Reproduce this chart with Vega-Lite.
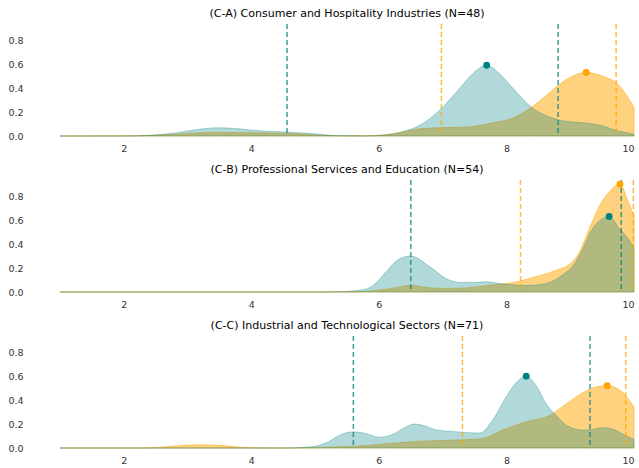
{
  "$schema": "https://vega.github.io/schema/vega-lite/v6.json",
  "padding": {"left": 7, "right": 0, "top": 8, "bottom": 0},
  "background": "white",
  "datasets": {
    "curves": [
      {"panel": "C-A", "group": "Group 1", "x": 1.0, "density": 0},
      {"panel": "C-A", "group": "Group 1", "x": 2.0, "density": 0},
      {"panel": "C-A", "group": "Group 1", "x": 2.4, "density": 0.006},
      {"panel": "C-A", "group": "Group 1", "x": 2.8, "density": 0.025},
      {"panel": "C-A", "group": "Group 1", "x": 3.1, "density": 0.05},
      {"panel": "C-A", "group": "Group 1", "x": 3.45, "density": 0.068},
      {"panel": "C-A", "group": "Group 1", "x": 3.7, "density": 0.065},
      {"panel": "C-A", "group": "Group 1", "x": 4.0, "density": 0.05},
      {"panel": "C-A", "group": "Group 1", "x": 4.3, "density": 0.038},
      {"panel": "C-A", "group": "Group 1", "x": 4.6, "density": 0.032},
      {"panel": "C-A", "group": "Group 1", "x": 4.9, "density": 0.022},
      {"panel": "C-A", "group": "Group 1", "x": 5.2, "density": 0.008},
      {"panel": "C-A", "group": "Group 1", "x": 5.5, "density": 0.002},
      {"panel": "C-A", "group": "Group 1", "x": 5.8, "density": 0.001},
      {"panel": "C-A", "group": "Group 1", "x": 6.05, "density": 0.007},
      {"panel": "C-A", "group": "Group 1", "x": 6.33, "density": 0.03},
      {"panel": "C-A", "group": "Group 1", "x": 6.64, "density": 0.09},
      {"panel": "C-A", "group": "Group 1", "x": 6.98, "density": 0.23},
      {"panel": "C-A", "group": "Group 1", "x": 7.27, "density": 0.4},
      {"panel": "C-A", "group": "Group 1", "x": 7.47, "density": 0.52},
      {"panel": "C-A", "group": "Group 1", "x": 7.69, "density": 0.59},
      {"panel": "C-A", "group": "Group 1", "x": 7.89, "density": 0.52},
      {"panel": "C-A", "group": "Group 1", "x": 8.1, "density": 0.4},
      {"panel": "C-A", "group": "Group 1", "x": 8.39, "density": 0.24},
      {"panel": "C-A", "group": "Group 1", "x": 8.67, "density": 0.16},
      {"panel": "C-A", "group": "Group 1", "x": 8.9, "density": 0.125},
      {"panel": "C-A", "group": "Group 1", "x": 9.1, "density": 0.115},
      {"panel": "C-A", "group": "Group 1", "x": 9.3, "density": 0.105},
      {"panel": "C-A", "group": "Group 1", "x": 9.5, "density": 0.085},
      {"panel": "C-A", "group": "Group 1", "x": 9.7, "density": 0.05},
      {"panel": "C-A", "group": "Group 1", "x": 10.0, "density": 0.015},

      {"panel": "C-A", "group": "Group 2", "x": 1.0, "density": 0},
      {"panel": "C-A", "group": "Group 2", "x": 2.2, "density": 0.002},
      {"panel": "C-A", "group": "Group 2", "x": 2.8, "density": 0.015},
      {"panel": "C-A", "group": "Group 2", "x": 3.2, "density": 0.027},
      {"panel": "C-A", "group": "Group 2", "x": 3.5, "density": 0.03},
      {"panel": "C-A", "group": "Group 2", "x": 3.9, "density": 0.028},
      {"panel": "C-A", "group": "Group 2", "x": 4.3, "density": 0.025},
      {"panel": "C-A", "group": "Group 2", "x": 4.6, "density": 0.022},
      {"panel": "C-A", "group": "Group 2", "x": 5.0, "density": 0.008},
      {"panel": "C-A", "group": "Group 2", "x": 5.4, "density": 0.001},
      {"panel": "C-A", "group": "Group 2", "x": 5.8, "density": 0.002},
      {"panel": "C-A", "group": "Group 2", "x": 6.1, "density": 0.01},
      {"panel": "C-A", "group": "Group 2", "x": 6.33, "density": 0.03},
      {"panel": "C-A", "group": "Group 2", "x": 6.64, "density": 0.06},
      {"panel": "C-A", "group": "Group 2", "x": 7.0, "density": 0.07},
      {"panel": "C-A", "group": "Group 2", "x": 7.4, "density": 0.075},
      {"panel": "C-A", "group": "Group 2", "x": 7.78, "density": 0.11},
      {"panel": "C-A", "group": "Group 2", "x": 8.1, "density": 0.15},
      {"panel": "C-A", "group": "Group 2", "x": 8.39, "density": 0.24},
      {"panel": "C-A", "group": "Group 2", "x": 8.67, "density": 0.36},
      {"panel": "C-A", "group": "Group 2", "x": 8.83, "density": 0.43},
      {"panel": "C-A", "group": "Group 2", "x": 9.0, "density": 0.49},
      {"panel": "C-A", "group": "Group 2", "x": 9.25, "density": 0.53},
      {"panel": "C-A", "group": "Group 2", "x": 9.5, "density": 0.5},
      {"panel": "C-A", "group": "Group 2", "x": 9.77, "density": 0.42},
      {"panel": "C-A", "group": "Group 2", "x": 10.0, "density": 0.24},

      {"panel": "C-B", "group": "Group 1", "x": 1.0, "density": 0},
      {"panel": "C-B", "group": "Group 1", "x": 5.0, "density": 0},
      {"panel": "C-B", "group": "Group 1", "x": 5.4, "density": 0.003},
      {"panel": "C-B", "group": "Group 1", "x": 5.7, "density": 0.015},
      {"panel": "C-B", "group": "Group 1", "x": 5.9, "density": 0.05},
      {"panel": "C-B", "group": "Group 1", "x": 6.1, "density": 0.16},
      {"panel": "C-B", "group": "Group 1", "x": 6.3, "density": 0.27},
      {"panel": "C-B", "group": "Group 1", "x": 6.5, "density": 0.3},
      {"panel": "C-B", "group": "Group 1", "x": 6.8, "density": 0.21},
      {"panel": "C-B", "group": "Group 1", "x": 7.06, "density": 0.11},
      {"panel": "C-B", "group": "Group 1", "x": 7.27, "density": 0.08},
      {"panel": "C-B", "group": "Group 1", "x": 7.5, "density": 0.08},
      {"panel": "C-B", "group": "Group 1", "x": 7.7, "density": 0.085},
      {"panel": "C-B", "group": "Group 1", "x": 7.9, "density": 0.07},
      {"panel": "C-B", "group": "Group 1", "x": 8.1, "density": 0.06},
      {"panel": "C-B", "group": "Group 1", "x": 8.3, "density": 0.055},
      {"panel": "C-B", "group": "Group 1", "x": 8.5, "density": 0.06},
      {"panel": "C-B", "group": "Group 1", "x": 8.72, "density": 0.09},
      {"panel": "C-B", "group": "Group 1", "x": 8.9, "density": 0.15},
      {"panel": "C-B", "group": "Group 1", "x": 9.03, "density": 0.21},
      {"panel": "C-B", "group": "Group 1", "x": 9.19, "density": 0.35},
      {"panel": "C-B", "group": "Group 1", "x": 9.34, "density": 0.52},
      {"panel": "C-B", "group": "Group 1", "x": 9.5, "density": 0.61},
      {"panel": "C-B", "group": "Group 1", "x": 9.61, "density": 0.63},
      {"panel": "C-B", "group": "Group 1", "x": 9.77, "density": 0.53},
      {"panel": "C-B", "group": "Group 1", "x": 9.9, "density": 0.45},
      {"panel": "C-B", "group": "Group 1", "x": 10.0, "density": 0.37},

      {"panel": "C-B", "group": "Group 2", "x": 1.0, "density": 0},
      {"panel": "C-B", "group": "Group 2", "x": 5.5, "density": 0},
      {"panel": "C-B", "group": "Group 2", "x": 5.9, "density": 0.01},
      {"panel": "C-B", "group": "Group 2", "x": 6.2, "density": 0.03},
      {"panel": "C-B", "group": "Group 2", "x": 6.5, "density": 0.055},
      {"panel": "C-B", "group": "Group 2", "x": 6.8, "density": 0.035},
      {"panel": "C-B", "group": "Group 2", "x": 7.1, "density": 0.03},
      {"panel": "C-B", "group": "Group 2", "x": 7.4, "density": 0.035},
      {"panel": "C-B", "group": "Group 2", "x": 7.7, "density": 0.055},
      {"panel": "C-B", "group": "Group 2", "x": 8.0, "density": 0.07},
      {"panel": "C-B", "group": "Group 2", "x": 8.2, "density": 0.09},
      {"panel": "C-B", "group": "Group 2", "x": 8.47, "density": 0.13},
      {"panel": "C-B", "group": "Group 2", "x": 8.72, "density": 0.17},
      {"panel": "C-B", "group": "Group 2", "x": 9.03, "density": 0.25},
      {"panel": "C-B", "group": "Group 2", "x": 9.14, "density": 0.33},
      {"panel": "C-B", "group": "Group 2", "x": 9.3, "density": 0.53},
      {"panel": "C-B", "group": "Group 2", "x": 9.45, "density": 0.71},
      {"panel": "C-B", "group": "Group 2", "x": 9.6, "density": 0.83},
      {"panel": "C-B", "group": "Group 2", "x": 9.78, "density": 0.9},
      {"panel": "C-B", "group": "Group 2", "x": 9.92, "density": 0.74},
      {"panel": "C-B", "group": "Group 2", "x": 10.0, "density": 0.64},

      {"panel": "C-C", "group": "Group 1", "x": 1.0, "density": 0},
      {"panel": "C-C", "group": "Group 1", "x": 4.5, "density": 0},
      {"panel": "C-C", "group": "Group 1", "x": 4.8, "density": 0.005},
      {"panel": "C-C", "group": "Group 1", "x": 5.0, "density": 0.015},
      {"panel": "C-C", "group": "Group 1", "x": 5.2, "density": 0.05},
      {"panel": "C-C", "group": "Group 1", "x": 5.4, "density": 0.11},
      {"panel": "C-C", "group": "Group 1", "x": 5.6, "density": 0.135},
      {"panel": "C-C", "group": "Group 1", "x": 5.8, "density": 0.12},
      {"panel": "C-C", "group": "Group 1", "x": 6.02, "density": 0.09},
      {"panel": "C-C", "group": "Group 1", "x": 6.2, "density": 0.11},
      {"panel": "C-C", "group": "Group 1", "x": 6.4, "density": 0.17},
      {"panel": "C-C", "group": "Group 1", "x": 6.56, "density": 0.2},
      {"panel": "C-C", "group": "Group 1", "x": 6.75, "density": 0.18},
      {"panel": "C-C", "group": "Group 1", "x": 6.9, "density": 0.15},
      {"panel": "C-C", "group": "Group 1", "x": 7.11, "density": 0.14},
      {"panel": "C-C", "group": "Group 1", "x": 7.35, "density": 0.13},
      {"panel": "C-C", "group": "Group 1", "x": 7.58, "density": 0.125},
      {"panel": "C-C", "group": "Group 1", "x": 7.78, "density": 0.23},
      {"panel": "C-C", "group": "Group 1", "x": 8.0, "density": 0.43},
      {"panel": "C-C", "group": "Group 1", "x": 8.16, "density": 0.55},
      {"panel": "C-C", "group": "Group 1", "x": 8.31, "density": 0.6},
      {"panel": "C-C", "group": "Group 1", "x": 8.48, "density": 0.51},
      {"panel": "C-C", "group": "Group 1", "x": 8.62, "density": 0.37},
      {"panel": "C-C", "group": "Group 1", "x": 8.75, "density": 0.29},
      {"panel": "C-C", "group": "Group 1", "x": 8.94, "density": 0.19},
      {"panel": "C-C", "group": "Group 1", "x": 9.19, "density": 0.15},
      {"panel": "C-C", "group": "Group 1", "x": 9.35, "density": 0.155},
      {"panel": "C-C", "group": "Group 1", "x": 9.5, "density": 0.17},
      {"panel": "C-C", "group": "Group 1", "x": 9.65, "density": 0.16},
      {"panel": "C-C", "group": "Group 1", "x": 9.81, "density": 0.12},
      {"panel": "C-C", "group": "Group 1", "x": 10.0, "density": 0.07},

      {"panel": "C-C", "group": "Group 2", "x": 1.0, "density": 0},
      {"panel": "C-C", "group": "Group 2", "x": 2.3, "density": 0},
      {"panel": "C-C", "group": "Group 2", "x": 2.6, "density": 0.008},
      {"panel": "C-C", "group": "Group 2", "x": 2.9, "density": 0.02},
      {"panel": "C-C", "group": "Group 2", "x": 3.2, "density": 0.027},
      {"panel": "C-C", "group": "Group 2", "x": 3.5, "density": 0.022},
      {"panel": "C-C", "group": "Group 2", "x": 3.8, "density": 0.008},
      {"panel": "C-C", "group": "Group 2", "x": 4.1, "density": 0.001},
      {"panel": "C-C", "group": "Group 2", "x": 4.6, "density": 0},
      {"panel": "C-C", "group": "Group 2", "x": 5.0, "density": 0.003},
      {"panel": "C-C", "group": "Group 2", "x": 5.4, "density": 0.01},
      {"panel": "C-C", "group": "Group 2", "x": 5.8, "density": 0.02},
      {"panel": "C-C", "group": "Group 2", "x": 6.2, "density": 0.04},
      {"panel": "C-C", "group": "Group 2", "x": 6.6, "density": 0.055},
      {"panel": "C-C", "group": "Group 2", "x": 7.11, "density": 0.065},
      {"panel": "C-C", "group": "Group 2", "x": 7.4, "density": 0.07},
      {"panel": "C-C", "group": "Group 2", "x": 7.63, "density": 0.08},
      {"panel": "C-C", "group": "Group 2", "x": 7.94, "density": 0.15},
      {"panel": "C-C", "group": "Group 2", "x": 8.31, "density": 0.22},
      {"panel": "C-C", "group": "Group 2", "x": 8.67, "density": 0.27},
      {"panel": "C-C", "group": "Group 2", "x": 8.94, "density": 0.37},
      {"panel": "C-C", "group": "Group 2", "x": 9.19, "density": 0.46},
      {"panel": "C-C", "group": "Group 2", "x": 9.4, "density": 0.51},
      {"panel": "C-C", "group": "Group 2", "x": 9.58, "density": 0.52},
      {"panel": "C-C", "group": "Group 2", "x": 9.81, "density": 0.47},
      {"panel": "C-C", "group": "Group 2", "x": 10.0, "density": 0.34}
    ],
    "peaks": [
      {"panel": "C-A", "group": "Group 1", "x": 7.69, "density": 0.59},
      {"panel": "C-A", "group": "Group 2", "x": 9.25, "density": 0.53},
      {"panel": "C-B", "group": "Group 1", "x": 9.61, "density": 0.63},
      {"panel": "C-B", "group": "Group 2", "x": 9.78, "density": 0.9},
      {"panel": "C-C", "group": "Group 1", "x": 8.31, "density": 0.6},
      {"panel": "C-C", "group": "Group 2", "x": 9.58, "density": 0.52}
    ],
    "lines": [
      {"panel": "C-A", "group": "Group 1", "x": 4.56},
      {"panel": "C-A", "group": "Group 1", "x": 8.81},
      {"panel": "C-A", "group": "Group 2", "x": 6.98},
      {"panel": "C-A", "group": "Group 2", "x": 9.72},
      {"panel": "C-B", "group": "Group 1", "x": 6.5},
      {"panel": "C-B", "group": "Group 1", "x": 9.8},
      {"panel": "C-B", "group": "Group 2", "x": 8.22},
      {"panel": "C-B", "group": "Group 2", "x": 9.99},
      {"panel": "C-C", "group": "Group 1", "x": 5.6},
      {"panel": "C-C", "group": "Group 1", "x": 9.31},
      {"panel": "C-C", "group": "Group 2", "x": 7.31},
      {"panel": "C-C", "group": "Group 2", "x": 9.87}
    ]
  },
  "spacing": 11,
  "vconcat": [
    {
      "title": "(C-A) Consumer and Hospitality Industries (N=48)",
      "width": 574, "height": 112,
      "encoding": {
        "x": {"field": "x", "type": "quantitative", "scale": {"domain": [1, 10], "nice": false, "zero": false}, "axis": {"values": [2, 4, 6, 8, 10], "labelPadding": 7}}
      },
      "layer": [
        {"data": {"name": "curves"}, "transform": [{"filter": "datum.panel === 'C-A' && datum.group === 'Group 2'"}],
         "mark": {"type": "area", "interpolate": "monotone", "fillOpacity": 0.5, "strokeOpacity": 0.5, "strokeWidth": 1},
         "encoding": {"y": {"field": "density", "type": "quantitative", "scale": {"domain": [0, 0.935], "nice": false}, "axis": {"values": [0, 0.2, 0.4, 0.6, 0.8], "format": ".1f", "labelPadding": 37, "labelOverlap": false}},
           "color": {"field": "group", "type": "nominal", "scale": {"domain": ["Group 1", "Group 2"], "range": ["#008080", "#FFA500"]}, "legend": null},
           "stroke": {"field": "group", "type": "nominal", "scale": {"domain": ["Group 1", "Group 2"], "range": ["#008080", "#FFA500"]}, "legend": null}}},
        {"data": {"name": "curves"}, "transform": [{"filter": "datum.panel === 'C-A' && datum.group === 'Group 1'"}],
         "mark": {"type": "area", "interpolate": "monotone", "fillOpacity": 0.3, "strokeOpacity": 0.3, "strokeWidth": 1},
         "encoding": {"y": {"field": "density", "type": "quantitative", "scale": {"domain": [0, 0.935], "nice": false}, "axis": {"values": [0, 0.2, 0.4, 0.6, 0.8], "format": ".1f", "labelPadding": 37, "labelOverlap": false}},
           "color": {"field": "group", "type": "nominal", "legend": null},
           "stroke": {"field": "group", "type": "nominal", "legend": null}}},
        {"data": {"name": "lines"}, "transform": [{"filter": "datum.panel === 'C-A'"}],
         "mark": {"type": "rule", "strokeDash": [5, 3], "strokeWidth": 1.5, "opacity": 0.75},
         "encoding": {"color": {"field": "group", "type": "nominal", "legend": null}}},
        {"data": {"name": "peaks"}, "transform": [{"filter": "datum.panel === 'C-A'"}],
         "mark": {"type": "circle", "size": 48, "opacity": 1},
         "encoding": {"y": {"field": "density", "type": "quantitative", "scale": {"domain": [0, 0.935], "nice": false}, "axis": {"values": [0, 0.2, 0.4, 0.6, 0.8], "format": ".1f", "labelPadding": 37, "labelOverlap": false}}, "color": {"field": "group", "type": "nominal", "legend": null}}}
      ]
    },
    {
      "title": "(C-B) Professional Services and Education (N=54)",
      "width": 574, "height": 112,
      "encoding": {
        "x": {"field": "x", "type": "quantitative", "scale": {"domain": [1, 10], "nice": false, "zero": false}, "axis": {"values": [2, 4, 6, 8, 10], "labelPadding": 7}}
      },
      "layer": [
        {"data": {"name": "curves"}, "transform": [{"filter": "datum.panel === 'C-B' && datum.group === 'Group 2'"}],
         "mark": {"type": "area", "interpolate": "monotone", "fillOpacity": 0.5, "strokeOpacity": 0.5, "strokeWidth": 1},
         "encoding": {"y": {"field": "density", "type": "quantitative", "scale": {"domain": [0, 0.935], "nice": false}, "axis": {"values": [0, 0.2, 0.4, 0.6, 0.8], "format": ".1f", "labelPadding": 37, "labelOverlap": false}},
           "color": {"field": "group", "type": "nominal", "scale": {"domain": ["Group 1", "Group 2"], "range": ["#008080", "#FFA500"]}, "legend": null},
           "stroke": {"field": "group", "type": "nominal", "scale": {"domain": ["Group 1", "Group 2"], "range": ["#008080", "#FFA500"]}, "legend": null}}},
        {"data": {"name": "curves"}, "transform": [{"filter": "datum.panel === 'C-B' && datum.group === 'Group 1'"}],
         "mark": {"type": "area", "interpolate": "monotone", "fillOpacity": 0.3, "strokeOpacity": 0.3, "strokeWidth": 1},
         "encoding": {"y": {"field": "density", "type": "quantitative", "scale": {"domain": [0, 0.935], "nice": false}, "axis": {"values": [0, 0.2, 0.4, 0.6, 0.8], "format": ".1f", "labelPadding": 37, "labelOverlap": false}},
           "color": {"field": "group", "type": "nominal", "legend": null},
           "stroke": {"field": "group", "type": "nominal", "legend": null}}},
        {"data": {"name": "lines"}, "transform": [{"filter": "datum.panel === 'C-B'"}],
         "mark": {"type": "rule", "strokeDash": [5, 3], "strokeWidth": 1.5, "opacity": 0.75},
         "encoding": {"color": {"field": "group", "type": "nominal", "legend": null}}},
        {"data": {"name": "peaks"}, "transform": [{"filter": "datum.panel === 'C-B'"}],
         "mark": {"type": "circle", "size": 48, "opacity": 1},
         "encoding": {"y": {"field": "density", "type": "quantitative", "scale": {"domain": [0, 0.935], "nice": false}, "axis": {"values": [0, 0.2, 0.4, 0.6, 0.8], "format": ".1f", "labelPadding": 37, "labelOverlap": false}}, "color": {"field": "group", "type": "nominal", "legend": null}}}
      ]
    },
    {
      "title": "(C-C) Industrial and Technological Sectors (N=71)",
      "width": 574, "height": 112,
      "encoding": {
        "x": {"field": "x", "type": "quantitative", "scale": {"domain": [1, 10], "nice": false, "zero": false}, "axis": {"values": [2, 4, 6, 8, 10], "labelPadding": 7}}
      },
      "layer": [
        {"data": {"name": "curves"}, "transform": [{"filter": "datum.panel === 'C-C' && datum.group === 'Group 2'"}],
         "mark": {"type": "area", "interpolate": "monotone", "fillOpacity": 0.5, "strokeOpacity": 0.5, "strokeWidth": 1},
         "encoding": {"y": {"field": "density", "type": "quantitative", "scale": {"domain": [0, 0.935], "nice": false}, "axis": {"values": [0, 0.2, 0.4, 0.6, 0.8], "format": ".1f", "labelPadding": 37, "labelOverlap": false}},
           "color": {"field": "group", "type": "nominal", "scale": {"domain": ["Group 1", "Group 2"], "range": ["#008080", "#FFA500"]}, "legend": null},
           "stroke": {"field": "group", "type": "nominal", "scale": {"domain": ["Group 1", "Group 2"], "range": ["#008080", "#FFA500"]}, "legend": null}}},
        {"data": {"name": "curves"}, "transform": [{"filter": "datum.panel === 'C-C' && datum.group === 'Group 1'"}],
         "mark": {"type": "area", "interpolate": "monotone", "fillOpacity": 0.3, "strokeOpacity": 0.3, "strokeWidth": 1},
         "encoding": {"y": {"field": "density", "type": "quantitative", "scale": {"domain": [0, 0.935], "nice": false}, "axis": {"values": [0, 0.2, 0.4, 0.6, 0.8], "format": ".1f", "labelPadding": 37, "labelOverlap": false}},
           "color": {"field": "group", "type": "nominal", "legend": null},
           "stroke": {"field": "group", "type": "nominal", "legend": null}}},
        {"data": {"name": "lines"}, "transform": [{"filter": "datum.panel === 'C-C'"}],
         "mark": {"type": "rule", "strokeDash": [5, 3], "strokeWidth": 1.5, "opacity": 0.75},
         "encoding": {"color": {"field": "group", "type": "nominal", "legend": null}}},
        {"data": {"name": "peaks"}, "transform": [{"filter": "datum.panel === 'C-C'"}],
         "mark": {"type": "circle", "size": 48, "opacity": 1},
         "encoding": {"y": {"field": "density", "type": "quantitative", "scale": {"domain": [0, 0.935], "nice": false}, "axis": {"values": [0, 0.2, 0.4, 0.6, 0.8], "format": ".1f", "labelPadding": 37, "labelOverlap": false}}, "color": {"field": "group", "type": "nominal", "legend": null}}}
      ]
    }
  ],
  "config": {
    "view": {"stroke": null},
    "axis": {"domain": false, "ticks": false, "grid": false, "title": null, "labelFont": "DejaVu Sans", "labelFontSize": 9.5, "labelColor": "#333333"},
    "title": {"font": "DejaVu Sans", "fontSize": 11, "fontWeight": "normal", "color": "#000000", "offset": 4, "anchor": "middle"}
  }
}
